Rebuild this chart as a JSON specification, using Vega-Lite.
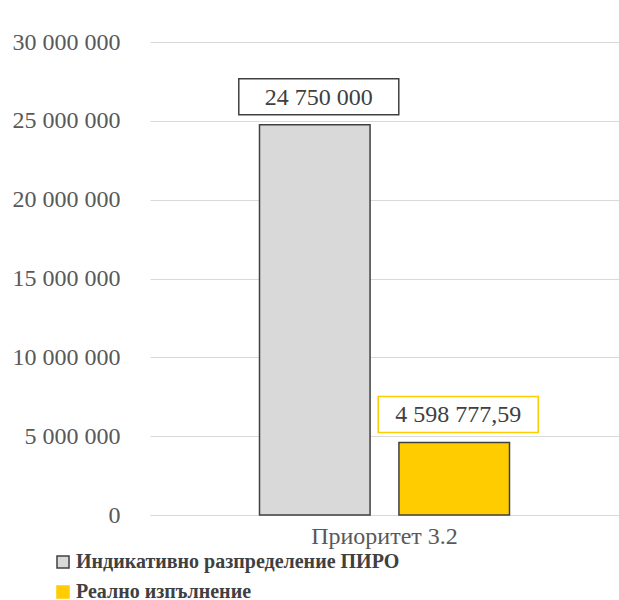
{
  "$schema": "https://vega.github.io/schema/vega-lite/v6.json",
  "autosize": {"type": "none"},
  "padding": {"left": 150, "top": 42, "right": 0, "bottom": 85},
  "width": 469,
  "height": 473,
  "background": "white",
  "config": {
    "locale": {"number": {"decimal": ",", "thousands": " ", "grouping": [3], "currency": ["", ""]}},
    "view": {"stroke": null},
    "font": "Liberation Serif"
  },
  "data": {
    "values": [
      {"category": "Приоритет 3.2", "series": "Индикативно разпределение ПИРО", "value": 24750000},
      {"category": "Приоритет 3.2", "series": "Реално изпълнение", "value": 4598777.59}
    ]
  },
  "encoding": {
    "x": {
      "field": "category", "type": "nominal", "title": null,
      "scale": {"paddingInner": 0, "paddingOuter": 0.438},
      "axis": {"labelAngle": 0, "ticks": false, "domainColor": "#d9d9d9", "domainWidth": 1, "labelFont": "Liberation Serif", "labelFontSize": 24, "labelColor": "#595959", "labelPadding": 9, "grid": false}
    },
    "xOffset": {"field": "series", "type": "nominal", "scale": {"paddingInner": 0.207, "paddingOuter": 0}},
    "y": {
      "field": "value", "type": "quantitative", "title": null,
      "scale": {"domain": [0, 30000000]},
      "axis": {"values": [0, 5000000, 10000000, 15000000, 20000000, 25000000, 30000000], "format": ",d", "ticks": false, "domain": false, "gridColor": "#d9d9d9", "gridWidth": 1, "labelFont": "Liberation Serif", "labelFontSize": 24, "labelColor": "#595959", "labelPadding": 30}
    }
  },
  "layer": [
    {
      "mark": {"type": "bar", "stroke": "#404040", "strokeWidth": 1.5},
      "encoding": {
        "color": {
          "field": "series", "type": "nominal", "title": null,
          "scale": {"domain": ["Индикативно разпределение ПИРО", "Реално изпълнение"], "range": ["#d9d9d9", "#ffcc00"]},
          "legend": {"orient": "none", "legendX": -97, "legendY": 510, "direction": "vertical", "symbolType": "square", "symbolSize": 144, "symbolStrokeColor": "#404040", "symbolStrokeWidth": 1.5, "labelFont": "Liberation Serif", "labelFontSize": 20, "labelFontWeight": "bold", "labelColor": "#404040", "labelLimit": 1000, "labelOffset": 3, "rowPadding": 10,
            "encode": {"symbols": {"update": {"stroke": {"value": "#404040"}, "strokeWidth": {"value": 1.5}}}}}
        }
      }
    },
    {
      "mark": {"type": "point", "shape": "M-0.95,-0.225L1.05,-0.225L1.05,0.225L-0.95,0.225Z", "size": 25600, "filled": true, "fill": "white", "opacity": 1, "strokeWidth": 1.5, "yOffset": -28},
      "encoding": {
        "stroke": {"field": "series", "type": "nominal", "scale": {"domain": ["Индикативно разпределение ПИРО", "Реално изпълнение"], "range": ["#404040", "#ffcc00"]}, "legend": null}
      }
    },
    {
      "mark": {"type": "text", "font": "Liberation Serif", "fontSize": 24, "color": "#404040", "baseline": "middle", "align": "center", "dx": 4, "dy": -27},
      "encoding": {
        "text": {"field": "value", "type": "quantitative", "format": ",.2~f"}
      }
    }
  ]
}
